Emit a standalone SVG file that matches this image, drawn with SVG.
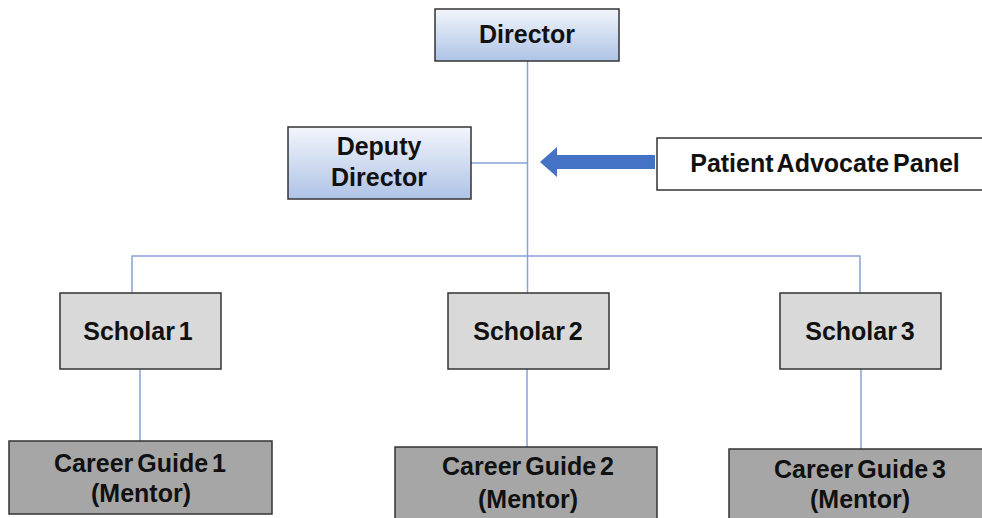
<svg xmlns="http://www.w3.org/2000/svg" width="982" height="518" viewBox="0 0 982 518">
  <defs>
    <linearGradient id="blueGrad" x1="0" y1="0" x2="0" y2="1">
      <stop offset="0" stop-color="#f2f5fb"/>
      <stop offset="1" stop-color="#aec3e6"/>
    </linearGradient>
    <style>
      .box { stroke: #333333; stroke-width: 1.5; }
      .lead { fill: url(#blueGrad); }
      .scholar { fill: #d9d9d9; }
      .guide { fill: #a6a6a6; }
      .panel { fill: #ffffff; }
      .conn { stroke: #87a3d6; stroke-width: 1.5; fill: none; }
      text { font-family: "Liberation Sans", Arial, sans-serif; font-weight: bold; font-size: 25px; fill: #111111; text-anchor: middle; word-spacing: -3px; }
    </style>
  </defs>
  <rect width="982" height="518" fill="#ffffff"/>

  <g id="connectors">
    <path class="conn" d="M527.5 61 V293"/>
    <path class="conn" d="M471 163 H527.5"/>
    <path class="conn" d="M132 293 V256 H860 V293"/>
    <path class="conn" d="M140 369 V441"/>
    <path class="conn" d="M527 369 V447"/>
    <path class="conn" d="M861 369 V449"/>
    <polygon points="655,155 557,155 557,147 540,162 557,177 557,169 655,169" fill="#4472c4"/>
  </g>

  <g id="director">
    <rect class="box lead" x="435" y="9" width="184" height="52"/>
    <text x="527" y="43">Director</text>
  </g>
  <g id="deputy">
    <rect class="box lead" x="288" y="127" width="183" height="72"/>
    <text x="379" y="155">Deputy</text>
    <text x="379" y="186">Director</text>
  </g>
  <g id="panel">
    <rect class="box panel" x="657" y="138" width="330" height="52"/>
    <text x="825" y="172">Patient Advocate Panel</text>
  </g>
  <g id="scholar1">
    <rect class="box scholar" x="60" y="293" width="161" height="76"/>
    <text x="138" y="340">Scholar 1</text>
  </g>
  <g id="scholar2">
    <rect class="box scholar" x="448" y="293" width="161" height="76"/>
    <text x="528" y="340">Scholar 2</text>
  </g>
  <g id="scholar3">
    <rect class="box scholar" x="780" y="293" width="161" height="76"/>
    <text x="860" y="340">Scholar 3</text>
  </g>
  <g id="guide1">
    <rect class="box guide" x="9" y="441" width="263" height="73"/>
    <text x="140" y="472">Career Guide 1</text>
    <text x="141" y="502">(Mentor)</text>
  </g>
  <g id="guide2">
    <rect class="box guide" x="395" y="447" width="262" height="80"/>
    <text x="528" y="475">Career Guide 2</text>
    <text x="528" y="508">(Mentor)</text>
  </g>
  <g id="guide3">
    <rect class="box guide" x="729" y="449" width="262" height="80"/>
    <text x="860" y="478">Career Guide 3</text>
    <text x="860" y="508">(Mentor)</text>
  </g>
</svg>
